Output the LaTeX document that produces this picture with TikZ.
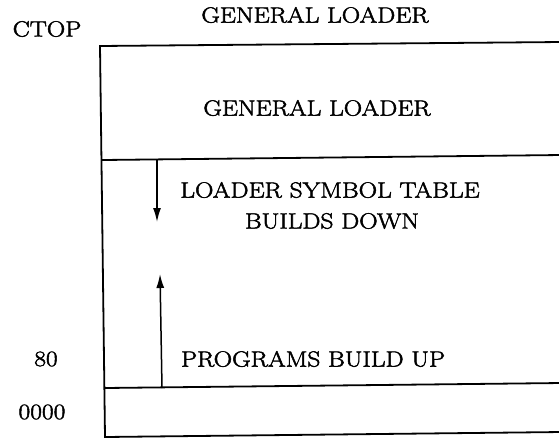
\documentclass[tikz,border=0pt]{standalone}
\usepackage{graphicx}
\usepackage{fontspec}
\newfontfamily\lblfont{Latin Modern Roman}[FakeBold=2]
\newcommand\stretchtxt[1]{\scalebox{1.16}[1]{#1}}
\usetikzlibrary{arrows.meta}
\begin{document}
\begin{tikzpicture}[x=1pt,y=-1pt,
  lbl/.style={inner sep=0pt, font=\lblfont\fontsize{22}{26}\selectfont},
  wall/.style={line width=1.8pt, line cap=rect},
  growarrow/.style={line width=1.5pt, -{Latex[length=14pt,width=8pt]}}]
\useasboundingbox (0,0) rectangle (559,439);
% frame corners
\coordinate (tl) at (100,46);
\coordinate (tr) at (562,42);
\coordinate (ml) at (103,160);
\coordinate (mr) at (562,155);
\coordinate (pl) at (105,388);
\coordinate (pr) at (562,383);
\coordinate (bl) at (105,437);
\coordinate (br) at (562,432);
\draw[wall] (tr) -- (tl) -- (bl) -- (br);
\draw[wall] (ml) -- (mr);
\draw[wall] (pl) -- (pr);
% arrows
\coordinate (dstart) at (157,160);
\coordinate (dend) at (157,222);
\coordinate (ustart) at (162,388);
\coordinate (uend) at (160,274);
\draw[growarrow] (dstart) -- (dend);
\draw[growarrow] (ustart) -- (uend);
% labels
\node[lbl] (title) at (315,15) {\stretchtxt{GENERAL LOADER}};
\node[lbl] (ctop) at (47,29) {\stretchtxt{CTOP}};
\node[lbl] (gl) at (317,108) {\stretchtxt{GENERAL LOADER}};
\node[lbl] (lst) at (330,190) {\stretchtxt{LOADER SYMBOL TABLE}};
\node[lbl] (bd) at (332,221) {\stretchtxt{BUILDS DOWN}};
\node[lbl] (pbu) at (313,359) {\stretchtxt{PROGRAMS BUILD UP}};
\node[lbl] (n80) at (46,359) {\stretchtxt{80}};
\node[lbl] (n0) at (42,412) {\stretchtxt{0000}};
\end{tikzpicture}
\end{document}
